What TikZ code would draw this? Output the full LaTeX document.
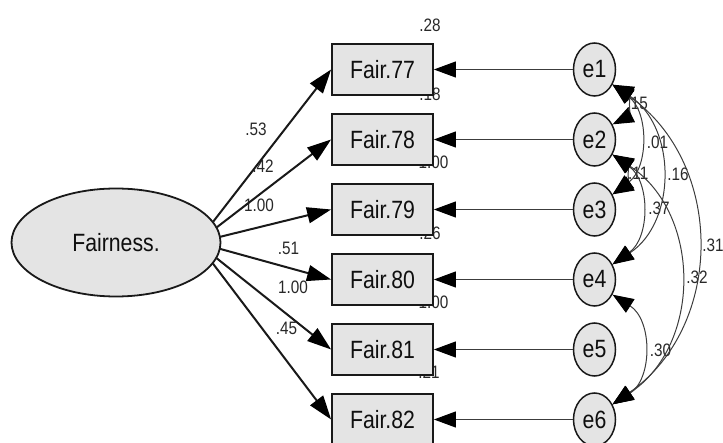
\documentclass[tikz,border=0pt]{standalone}
\usepackage{fontspec}
\setmainfont[FakeStretch=0.85]{Liberation Sans}
\usetikzlibrary{arrows.meta,shapes.geometric,intersections}
\definecolor{boxfill}{RGB}{228,228,228}
\definecolor{linegray}{RGB}{60,60,60}
\definecolor{numgray}{RGB}{40,40,40}
\definecolor{txt}{RGB}{15,15,15}
\begin{document}
\begin{tikzpicture}[x=1pt,y=1pt,
  big/.style={font=\fontsize{25}{28}\selectfont, text=txt},
  obs/.style={big, draw=black!90, line width=1.8pt, fill=boxfill, minimum width=101pt, minimum height=51pt, inner sep=0pt},
  err/.style={big, ellipse, draw=black!90, line width=1.5pt, fill=boxfill, minimum width=42pt, minimum height=53pt, inner sep=0pt},
  lat/.style={big, ellipse, draw=black!90, line width=1.8pt, fill=boxfill, minimum width=209pt, minimum height=108pt, inner sep=0pt},
  num/.style={font=\fontsize{18}{20}\selectfont, text=numgray, inner sep=0pt},
  patharr/.style={line width=2pt, draw=black!90, -{Triangle[length=24pt,width=16pt,color=black]}},
  errarr/.style={line width=1pt, draw=linegray, -{Triangle[length=22pt,width=16pt,color=black]}},
  cov/.style={line width=1pt, draw=linegray, {Triangle[length=21pt,width=16pt,color=black]}-{Triangle[length=21pt,width=16pt,color=black]}}
]
\useasboundingbox (0,0) rectangle (723,-443);

% variance labels (under the boxes)
\node[num] (v77) at (430,-25) {.28};
\node[num] (v78) at (430,-94.5) {.18};
\node[num] (v79) at (433.5,-162.5) {1.00};
\node[num] (v80) at (430,-233.5) {.26};
\node[num] (v81) at (433.5,-302) {1.00};
\node[num] (v82) at (429,-372) {.21};

% observed variables
\node[obs] (b77) at (382.5,-69.5) {Fair.77};
\node[obs] (b78) at (382.5,-139.5) {Fair.78};
\node[obs] (b79) at (382.5,-209.5) {Fair.79};
\node[obs] (b80) at (382.5,-279.5) {Fair.80};
\node[obs] (b81) at (382.5,-349.5) {Fair.81};
\node[obs] (b82) at (382.5,-419.5) {Fair.82};

% latent variable
\node[lat] (F) at (116,-242.5) {Fairness.};
\path[name path=Fb] (F.center) ellipse [x radius=105, y radius=55];
\coordinate (Fo) at (197,-242.5);

% error terms
\node[err] (e1) at (594.5,-69.5) {e1};
\node[err] (e2) at (594.5,-139.5) {e2};
\node[err] (e3) at (594.5,-209.5) {e3};
\node[err] (e4) at (594.5,-279.5) {e4};
\node[err] (e5) at (594.5,-349.5) {e5};
\node[err] (e6) at (594.5,-419.5) {e6};

% loading labels
\node[num] (l77) at (256,-129.5) {.53};
\node[num] (l78) at (263,-166.5) {.42};
\node[num] (l79) at (259,-205.5) {1.00};
\node[num] (l80) at (288.5,-248.5) {.51};
\node[num] (l81) at (293,-287.5) {1.00};
\node[num] (l82) at (286.5,-328.5) {.45};

% loadings
\foreach \b in {77,78,79,80,81,82}{
  \path[name path=ray\b] (Fo) -- (b\b.west);
  \draw[patharr, name intersections={of=Fb and ray\b, by={s\b}}] (s\b) -- (b\b.west);
}

% error paths
\draw[errarr] (e1.west) -- (b77.east);
\draw[errarr] (e2.west) -- (b78.east);
\draw[errarr] (e3.west) -- (b79.east);
\draw[errarr] (e4.west) -- (b80.east);
\draw[errarr] (e5.west) -- (b81.east);
\draw[errarr] (e6.west) -- (b82.east);

% covariance labels
\node[num, anchor=east] (c12) at (648,-103.5) {.15};
\node[num, anchor=east] (c23) at (648.5,-173.5) {.11};
\node[num] (c13) at (657.5,-142) {.01};
\node[num] (c14) at (678,-174.5) {.16};
\node[num] (c24) at (659,-208.5) {.37};
\node[num] (c16) at (713,-245) {.31};
\node[num] (c26) at (697,-277.5) {.32};
\node[num] (c46) at (660.5,-350) {.30};

% covariances
\draw[cov] (e1.-40) to[out=-26.5,in=26.5,looseness=1.18] (e2.40);
\draw[cov] (e2.-40) to[out=-31,in=31,looseness=1.12] (e3.40);
\draw[cov] (e1.-40) to[out=-37,in=37,looseness=1.06] (e3.40);
\draw[cov] (e1.-40) to[out=-33.5,in=33.5,looseness=1.10] (e4.40);
\draw[cov] (e2.-40) to[out=-35.5,in=35.5,looseness=1.08] (e4.40);
\draw[cov] (e1.-40) to[out=-35,in=35,looseness=1.10] (e6.40);
\draw[cov] (e2.-40) to[out=-33.5,in=33.5,looseness=1.10] (e6.40);
\draw[cov] (e4.-40) to[out=-32.5,in=32.5,looseness=1.11] (e6.40);
\end{tikzpicture}
\end{document}
